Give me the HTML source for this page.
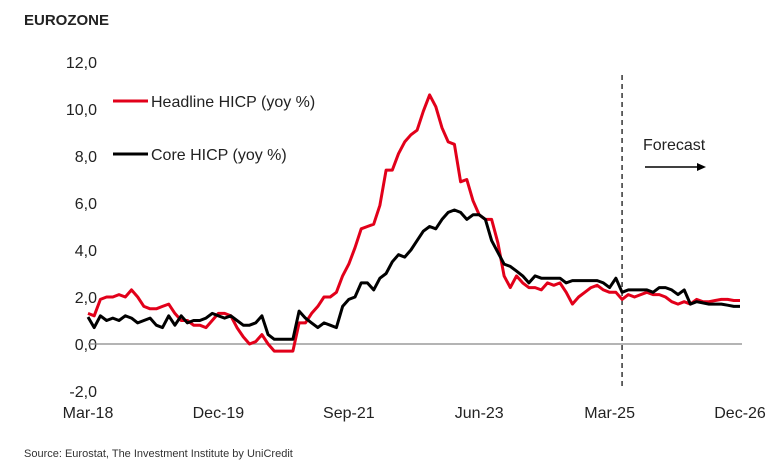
<!DOCTYPE html>
<html><head><meta charset="utf-8"><style>
body{margin:0;background:#fff;width:783px;height:467px;overflow:hidden;font-family:"Liberation Sans",sans-serif}
</style></head><body>
<svg width="783" height="467" style="position:absolute;left:0;top:0">
<text x="24" y="25" font-size="15" font-weight="bold" fill="#222">EUROZONE</text>
<g id="yaxis"></g>
<g id="xaxis"></g>
<g id="plot"></g>
<g>
<line x1="113" y1="101" x2="148" y2="101" stroke="#e2001a" stroke-width="3"/>
<text x="151" y="107" font-size="16" fill="#222">Headline HICP (yoy %)</text>
<line x1="113" y1="154" x2="148" y2="154" stroke="#000" stroke-width="3"/>
<text x="151" y="160" font-size="16" fill="#222">Core HICP (yoy %)</text>
</g>
<text x="643" y="150" font-size="16" fill="#222">Forecast</text>
<line x1="645" y1="167" x2="700" y2="167" stroke="#000" stroke-width="1.5"/>
<polygon points="706,167 697,163 697,171" fill="#000"/>
<text x="24" y="457" font-size="11" fill="#333">Source: Eurostat, The Investment Institute by UniCredit</text>
</svg>
<script>
const headline=[1.3,1.2,1.9,2.0,2.0,2.1,2.0,2.3,2.0,1.6,1.5,1.5,1.6,1.7,1.3,1.0,1.0,0.8,0.8,0.7,1.0,1.3,1.3,1.2,0.7,0.3,0.0,0.1,0.4,0.0,-0.3,-0.3,-0.3,-0.3,0.9,0.9,1.3,1.6,2.0,2.0,2.2,2.9,3.4,4.1,4.9,5.0,5.1,5.9,7.4,7.4,8.1,8.6,8.9,9.1,9.9,10.6,10.1,9.2,8.6,8.5,6.9,7.0,6.1,5.5,5.3,5.3,4.3,2.9,2.4,2.9,2.6,2.4,2.4,2.3,2.6,2.5,2.6,2.2,1.7,2.0,2.2,2.4,2.5,2.3,2.2,2.2,1.9,2.1,2.0,2.1,2.2,2.1,2.1,2.0,1.8,1.7,1.8,1.7,1.9,1.8,1.8,1.85,1.9,1.9,1.85,1.85];
const core=[1.15,0.7,1.2,1.0,1.1,1.0,1.2,1.1,0.9,1.0,1.1,0.8,0.7,1.2,0.8,1.2,0.9,1.0,1.0,1.1,1.3,1.2,1.1,1.2,1.0,0.8,0.8,0.9,1.2,0.4,0.2,0.2,0.2,0.2,1.4,1.1,0.9,0.7,0.9,0.8,0.7,1.6,1.9,2.0,2.6,2.6,2.3,2.8,3.0,3.5,3.8,3.7,4.0,4.4,4.8,5.0,4.9,5.3,5.6,5.7,5.6,5.3,5.5,5.5,5.3,4.4,3.9,3.4,3.3,3.1,2.9,2.6,2.9,2.8,2.8,2.8,2.8,2.6,2.7,2.7,2.7,2.7,2.7,2.6,2.4,2.8,2.2,2.3,2.3,2.3,2.3,2.2,2.4,2.4,2.3,2.1,2.3,1.7,1.8,1.75,1.7,1.7,1.7,1.65,1.6,1.6];
const yTicks=[-2,0,2,4,6,8,10,12];
const xLabels=["Mar-18","Dec-19","Sep-21","Jun-23","Mar-25","Dec-26"];
const xLabelIdx=[0,21,42,63,84,105];
const forecastIdx=86;
const NS="http://www.w3.org/2000/svg";
const X0=88,DX=6.21;
const x=i=>X0+i*DX;
const y=v=>344-v*23.5;
function mk(t,a,p){const e=document.createElementNS(NS,t);for(const k in a)e.setAttribute(k,a[k]);p.appendChild(e);return e;}
const ya=document.getElementById('yaxis'),xa=document.getElementById('xaxis'),pl=document.getElementById('plot');
yTicks.forEach(v=>{const t=mk('text',{x:97,y:y(v)+6,'font-size':16,'text-anchor':'end',fill:'#222'},ya);t.textContent=v.toFixed(1).replace('.',',');

});
xLabels.forEach((l,k)=>{const t=mk('text',{x:x(xLabelIdx[k]),y:418,'font-size':16,'text-anchor':'middle',fill:'#222'},xa);t.textContent=l;

});
const z=mk('line',{x1:88,x2:742,y1:y(0),y2:y(0),stroke:'#888','stroke-width':1.2},pl);


const fl=mk('line',{x1:x(forecastIdx),x2:x(forecastIdx),y1:75,y2:390,stroke:'#000','stroke-width':1.2,'stroke-dasharray':'5,4'},pl);


function line(d,c,n){const p=mk('path',{d:d.map((v,i)=>(i?'L':'M')+x(i).toFixed(1)+','+y(v).toFixed(1)).join(''),fill:'none',stroke:c,'stroke-width':3,'stroke-linejoin':'round'},pl);

}
line(headline,'#e2001a','headline-hicp-line');
line(core,'#000','core-hicp-line');
</script>
</body></html>
